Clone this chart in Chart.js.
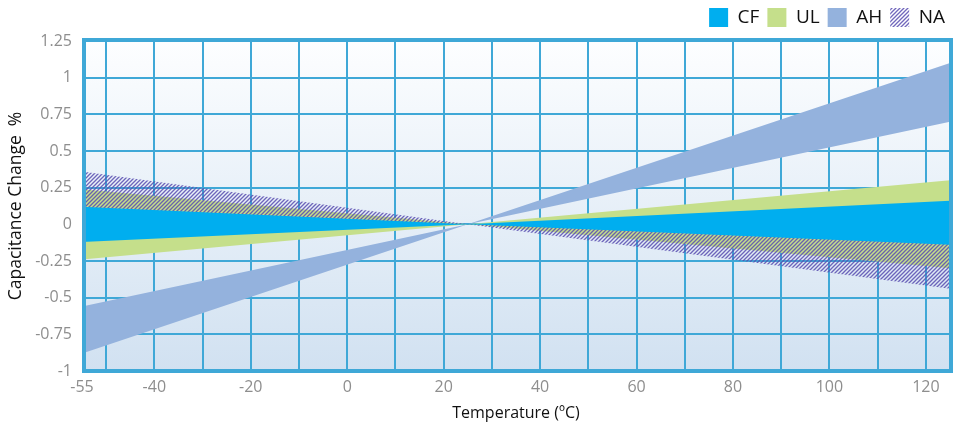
<!DOCTYPE html>
<html>
<head>
<meta charset="utf-8">
<script src="https://cdn.jsdelivr.net/npm/chart.js@4.4.0/dist/chart.umd.min.js"></script>
<style>
  html, body { margin: 0; padding: 0; background: #fff; }
  #wrap { width: 957px; height: 423px; }
</style>
</head>
<body>
<div id="wrap"><canvas id="myChart" width="957" height="423"></canvas></div>
<script>
// temperatures where the band edges are read (all bands meet at 25 °C)
const temps = [-55, 25, 125];

const cfHigh = [0.12, 0, 0.16];
const cfLow = [-0.12, 0, -0.14];
const ulHigh = [0.24, 0, 0.30];
const ulLow = [-0.24, 0, -0.30];
const ahHigh = [-0.56, 0, 1.10];
const ahLow = [-0.88, 0, 0.70];
const naHigh = [0.36, 0, 0];
const naLow = [0, 0, -0.44];

const xTicks = [-55, -50, -40, -30, -20, -10, 0, 10, 20, 30, 40, 50, 60, 70, 80, 90, 100, 110, 120, 125];
const yTicks = [-1, -0.75, -0.5, -0.25, 0, 0.25, 0.5, 0.75, 1, 1.25];

const gridBlue = '#3FA8D7';

function pts(arr) {
    return temps.map((t, i) => ({ x: t, y: arr[i] }));
}

// diagonal hatch for NA
function makeHatch() {
    const c = document.createElement('canvas');
    c.width = 4; c.height = 4;
    const g = c.getContext('2d');
    g.strokeStyle = 'rgba(88,76,176,0.85)';
    g.lineWidth = 1.3;
    g.beginPath();
    g.moveTo(-1, 5); g.lineTo(5, -1);
    g.moveTo(-1, 1); g.lineTo(1, -1);
    g.moveTo(3, 5); g.lineTo(5, 3);
    g.stroke();
    return g.createPattern(c, 'repeat');
}
const hatch = makeHatch();

function band(label, lo, hi, color, order) {
    const common = { type: 'line', pointRadius: 0, borderWidth: 0, tension: 0, order: order };
    return [
        Object.assign({}, common, { label: '', data: pts(lo), fill: false, backgroundColor: color }),
        Object.assign({}, common, { label: label, data: pts(hi), fill: '-1', backgroundColor: color })
    ];
}

const bgPlugin = {
    id: 'bg',
    beforeDraw(chart) {
        const { ctx, chartArea: a } = chart;
        const grad = ctx.createLinearGradient(0, a.top, 0, a.bottom);
        grad.addColorStop(0, '#FDFEFF');
        grad.addColorStop(1, '#D1E1F1');
        ctx.save();
        ctx.fillStyle = grad;
        ctx.fillRect(a.left, a.top, a.right - a.left, a.bottom - a.top);
        ctx.restore();
    },
    afterDatasetsDraw(chart) {
        const { ctx, chartArea: a } = chart;
        ctx.save();
        ctx.strokeStyle = gridBlue;
        ctx.lineWidth = 4;
        ctx.strokeRect(a.left + 2, a.top - 1, a.right - a.left - 1, a.bottom - a.top + 1);
        ctx.restore();
    }
};

const legendFit = {
    id: 'legendFit',
    beforeInit(chart) {
        const orig = chart.legend.fit;
        chart.legend.fit = function () {
            orig.bind(chart.legend)();
            this.height = 41;
        };
    }
};

const ctx = document.getElementById('myChart').getContext('2d');
const chart = new Chart(ctx, {
    type: 'line',
    data: {
        datasets: [
            ...band('CF', cfLow, cfHigh, '#00AEEF', 0),
            ...band('UL', ulLow, ulHigh, '#C5DF8B', 2),
            ...band('AH', ahLow, ahHigh, '#94B2DD', 3),
            ...band('NA', naLow, naHigh, hatch, 1)
        ]
    },
    plugins: [bgPlugin, legendFit],
    options: {
        responsive: false,
        animation: false,
        layout: { padding: { top: 0, right: 4, bottom: 0, left: 0 } },
        plugins: {
            tooltip: { enabled: false },
            legend: {
                position: 'top',
                align: 'end',
                labels: {
                    filter: item => item.text !== '',
                    sort: (a, b) => a.datasetIndex - b.datasetIndex,
                    boxWidth: 19,
                    boxHeight: 19,
                    padding: 8,
                    color: '#111',
                    font: { family: 'Open Sans', size: 19 }
                }
            }
        },
        scales: {
            x: {
                type: 'linear',
                min: -55,
                max: 125,
                afterBuildTicks: s => { s.ticks = xTicks.map(v => ({ value: v })); },
                afterFit: s => { s.height = 52; },
                grid: {
                    color: c => (c.tick && (c.tick.value === -55 || c.tick.value === 125)) ? 'transparent' : gridBlue,
                    lineWidth: 2,
                    drawTicks: false
                },
                border: { display: false },
                ticks: {
                    autoSkip: false,
                    maxRotation: 0,
                    padding: 7,
                    color: '#8E8E8E',
                    font: { family: 'Open Sans', size: 16 },
                    callback: v => (v === -55 || (v % 20 === 0 && v !== 125)) ? String(v) : ''
                },
                title: {
                    display: true,
                    text: 'Temperature (ºC)',
                    color: '#111',
                    padding: { top: 0, bottom: 0 },
                    font: { family: 'Open Sans', size: 16 }
                }
            },
            y: {
                min: -1,
                max: 1.25,
                afterBuildTicks: s => { s.ticks = yTicks.map(v => ({ value: v })); },
                afterFit: s => { s.width = 82; },
                grid: {
                    color: c => (c.tick && (c.tick.value === -1 || c.tick.value === 1.25)) ? 'transparent' : gridBlue,
                    lineWidth: 2,
                    drawTicks: false
                },
                border: { display: false },
                ticks: {
                    padding: 10,
                    color: '#8E8E8E',
                    font: { family: 'Open Sans', size: 16 },
                    callback: v => String(v)
                },
                title: {
                    display: true,
                    text: 'Capacitance Change  %',
                    color: '#111',
                    padding: { top: 6, bottom: 0 },
                    font: { family: 'Open Sans', size: 17.5 }
                }
            }
        }
    }
});
</script>
</body>
</html>
